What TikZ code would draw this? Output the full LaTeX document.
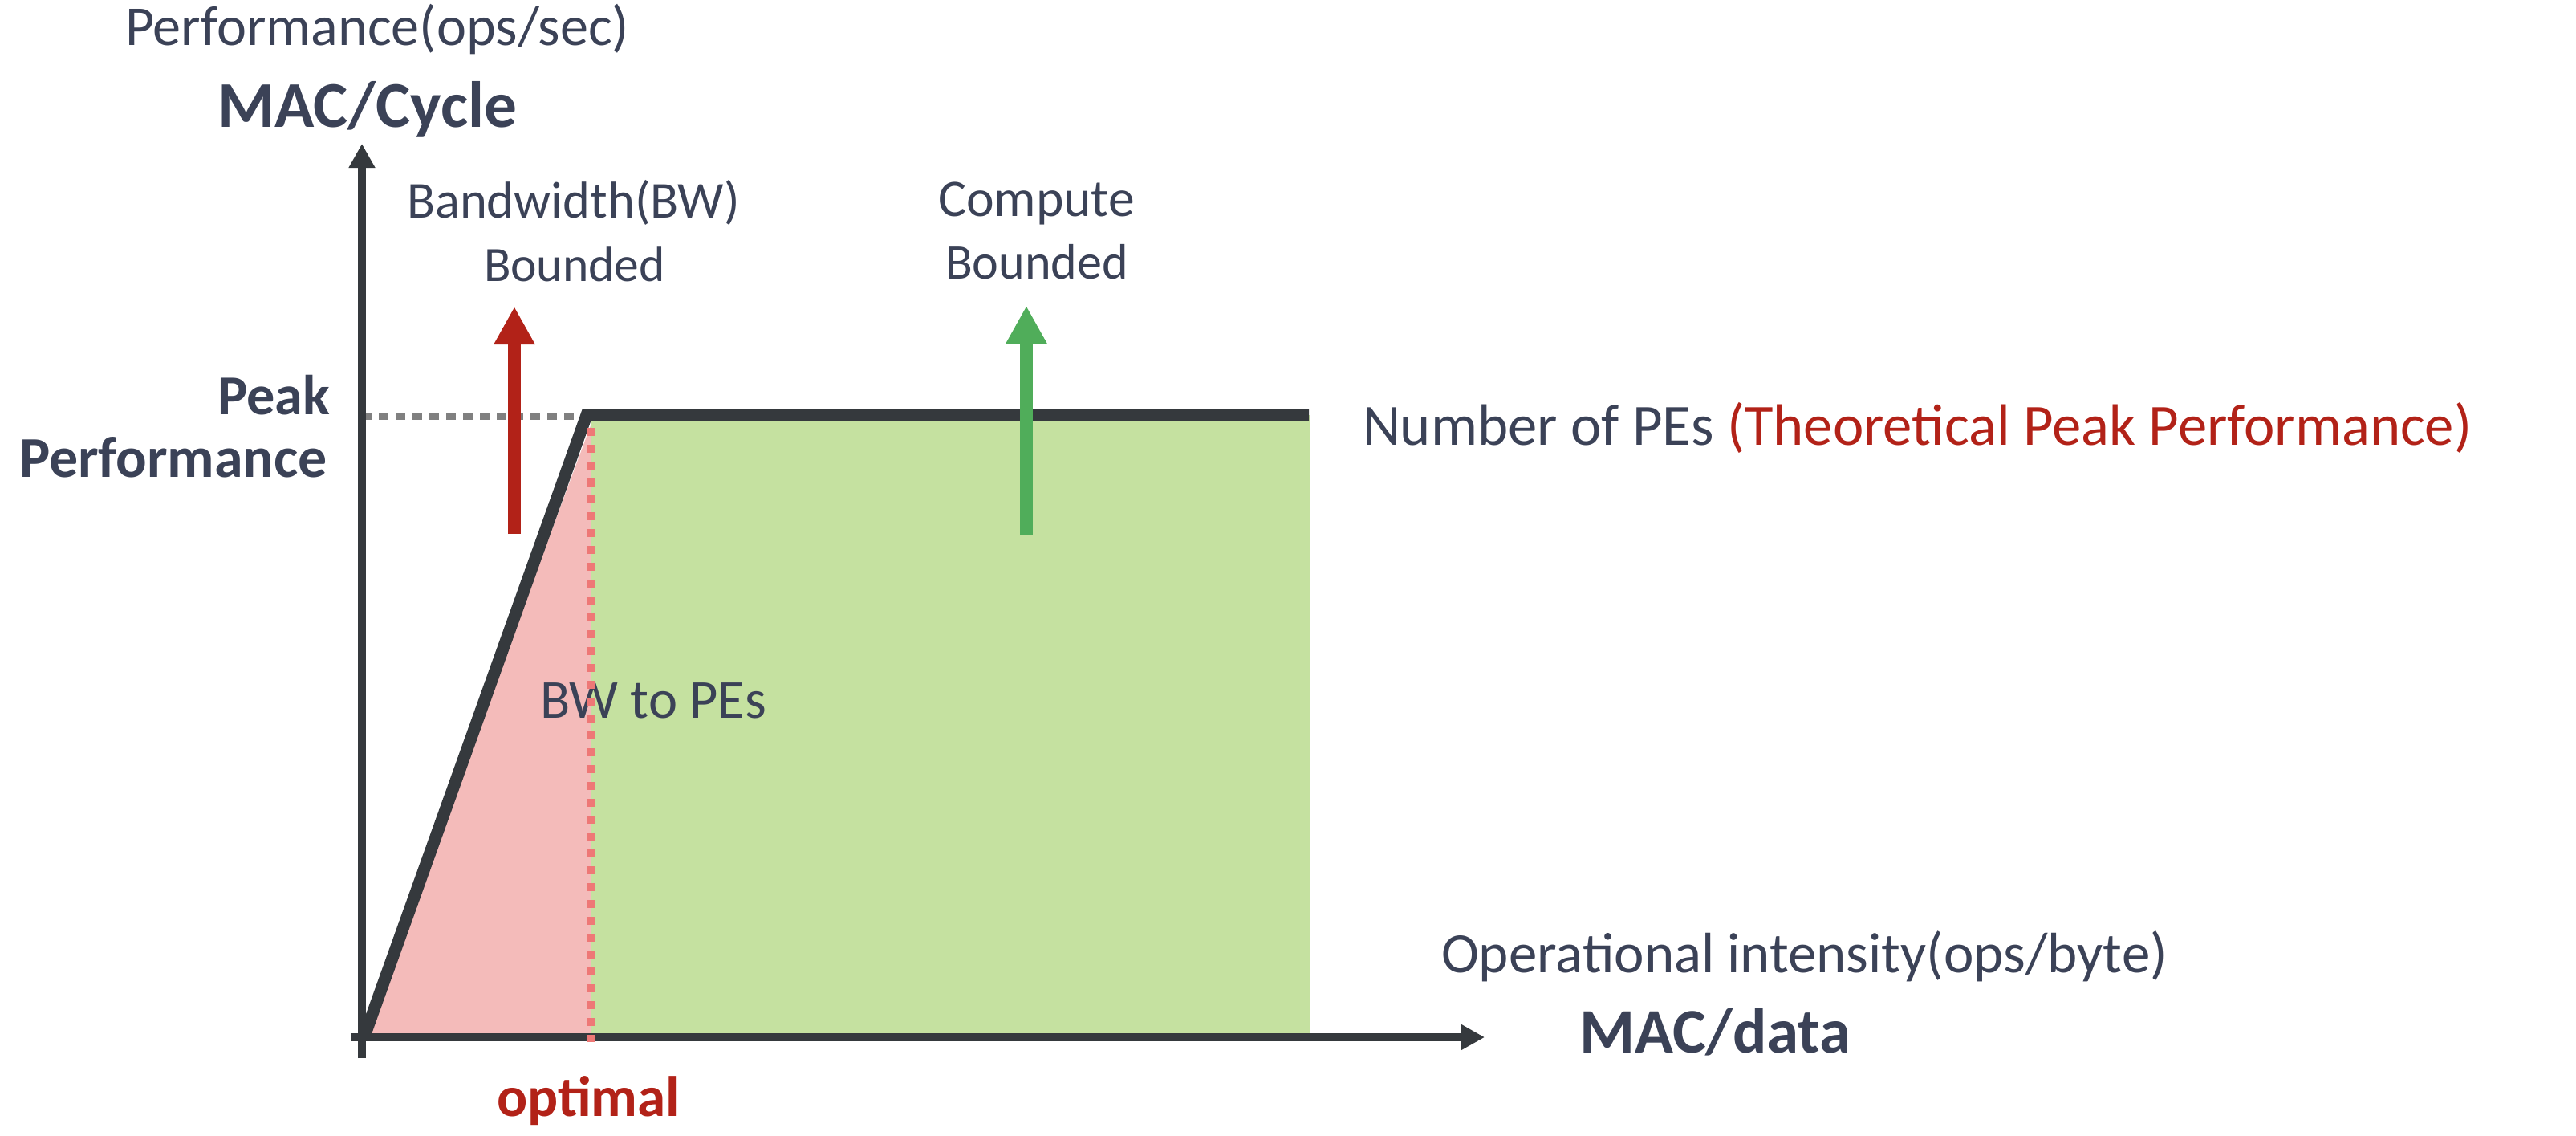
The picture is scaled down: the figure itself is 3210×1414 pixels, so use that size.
\documentclass[tikz,border=0pt]{standalone}
\usepackage{fontspec}
\setmainfont{Carlito}
\usetikzlibrary{arrows.meta}
\definecolor{txt}{RGB}{59,66,87}
\definecolor{axisc}{RGB}{53,57,61}
\definecolor{redc}{RGB}{178,34,24}
\definecolor{greenarr}{RGB}{80,173,90}
\definecolor{greenfill}{RGB}{197,225,160}
\definecolor{pinkfill}{RGB}{244,187,186}
\definecolor{reddot}{RGB}{238,120,118}
\definecolor{greydot}{RGB}{128,128,128}
\newcommand{\fitw}[2]{\resizebox{#1pt}{!}{#2}}
\begin{document}
\begin{tikzpicture}[x=1pt,y=-1pt,
  lbl/.style={inner sep=0pt,outer sep=0pt,text=txt,anchor=base west,font=\fontsize{60}{72}\selectfont},
  axisline/.style={line width=10.5pt,draw=axisc,-{Triangle[length=30pt,width=31pt]}},
  bigarrow/.style={line width=16pt,-{Triangle[length=47pt,width=48pt]}},
  dotline/.style={line width=10pt,dash pattern=on 10pt off 11pt}]
\useasboundingbox (0,0) rectangle (3210,1414);
% coordinates
\coordinate (o) at (454,1291);
\coordinate (pk) at (731,517);
\coordinate (pe) at (1631,517);
\coordinate (ytop) at (451,179);
\coordinate (ybot) at (451,1318);
\coordinate (xl) at (437,1292);
\coordinate (xr) at (1850,1292);
% fills
\fill[pinkfill] (o) -- (736,530) -- (736,1296) -- (454,1296) -- cycle;
\fill[greenfill] (736,517) rectangle (1632,1291);
% grey dotted peak line
\coordinate (gl) at (451,518);
\coordinate (gr) at (724,518);
\draw[greydot,line width=9pt,dash pattern=on 12pt off 9pt] (gl) -- (gr);
% axes
\draw[axisline] (ybot) -- (ytop);
\draw[axisline] (xl) -- (xr);
% roofline
\draw[axisc,line width=15pt,line join=miter] (o) -- (pk) -- (pe);
% red dotted optimal line
\coordinate (rd1) at (736,533);
\coordinate (rd2) at (736,1298);
% text
\node[lbl] (perf) at (156,56) {\fitw{628}{Performance(ops/sec)}};
\node[lbl] (maccyc) at (271,158) {\fitw{373}{\bfseries MAC/Cycle}};
\node[lbl] (bw1) at (507,271) {\fitw{415}{Bandwidth(BW)}};
\node[lbl] (bw2) at (603,350) {\fitw{226}{Bounded}};
\node[lbl] (cb1) at (1169,269) {\fitw{245}{Compute}};
\node[lbl] (cb2) at (1178,347) {\fitw{228}{Bounded}};
\node[lbl] (peak) at (271,516) {\fitw{140}{\bfseries Peak}};
\node[lbl] (peakperf) at (24,594) {\fitw{384}{\bfseries Performance}};
\node[lbl] (npe) at (1698,554) {\fitw{1382}{Number of PEs \textcolor{redc}{(Theoretical Peak Performance)}}};
\node[lbl] (bwpe) at (673,894) {\fitw{282}{BW to PEs}};
\node[lbl] (opint) at (1796,1211) {\fitw{905}{Operational intensity(ops/byte)}};
\node[lbl] (macdata) at (1968,1311) {\fitw{338}{\bfseries MAC/data}};
\node[lbl,text=redc] (opt) at (619,1390) {\fitw{228}{\bfseries optimal}};
\draw[reddot,dotline] (rd1) -- (rd2);
% arrows
\coordinate (ra1) at (641,665);
\coordinate (ra2) at (641,382);
\coordinate (ga1) at (1279,666);
\coordinate (ga2) at (1279,381);
\draw[redc,bigarrow] (ra1) -- (ra2);
\draw[greenarr,bigarrow] (ga1) -- (ga2);
\end{tikzpicture}
\end{document}
